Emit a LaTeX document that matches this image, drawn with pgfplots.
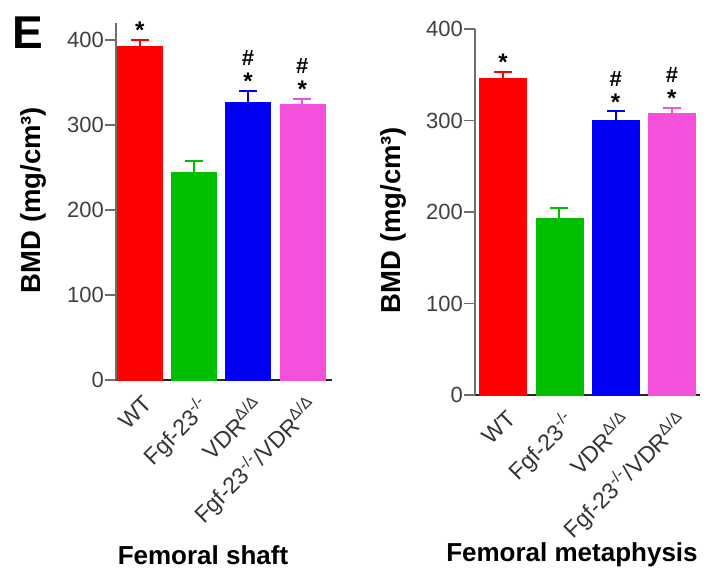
\documentclass[border=0pt]{standalone}
\usepackage{pgfplots}
\pgfplotsset{compat=1.18}
\usepackage{fontspec}
\setmainfont{Liberation Sans}
\definecolor{cred}{RGB}{255,0,0}
\definecolor{cgreen}{RGB}{0,190,0}
\definecolor{cblue}{RGB}{0,0,245}
\definecolor{cpink}{RGB}{245,80,220}
\definecolor{axgray}{RGB}{110,110,110}
\begin{document}
\begin{tikzpicture}
\path[use as bounding box] (0,0) rectangle (707pt,-575pt);
\pgfplotsset{
 bmd/.style={
  scale only axis,
  anchor=south west,
  axis x line*=bottom, axis y line*=left,
  x axis line style={black!85, line width=1.6pt, -},
  y axis line style={axgray, line width=2.5pt, -},
  ytick={0,100,200,300,400},
  xtick={0,1,2,3},
  xticklabels={WT, Fgf-23\textsuperscript{-/-}, VDR\textsuperscript{Δ/Δ}, Fgf-23\textsuperscript{-/-}/VDR\textsuperscript{Δ/Δ}},
  x tick label style={rotate=45, anchor=north east, font=\fontsize{23}{23}\selectfont, text=black!80, inner sep=1pt, yshift=-3pt, xshift=1pt},
  y tick label style={font=\fontsize{22}{22}\selectfont, text=black!75, inner sep=1pt},
  /pgf/number format/assume math mode=true,
  tick align=outside,
  major tick length=11pt,
  ytick style={axgray, line width=1.5pt},
  xtick style={draw=none},
  ymin=0,
  clip=false,
 },
 bbar/.style={ybar, bar shift=0pt, fill=#1, draw=#1,
   error bars/.cd, y dir=plus, y explicit,
   error bar style={#1, line width=2pt},
   error mark options={#1, rotate=90, mark size=9pt, line width=2pt}},
 star/.style={only marks, mark=none, nodes near coords={*},
   nodes near coords style={anchor=south, font=\fontsize{24}{24}\selectfont\bfseries, inner sep=1pt}},
 hash/.style={only marks, mark=none, nodes near coords={\#},
   nodes near coords style={anchor=south, font=\fontsize{22}{22}\selectfont\bfseries, inner sep=1pt, yshift=24pt}},
}
% Left panel: Femoral shaft
\begin{axis}[bmd, at={(116pt,-380pt)}, width=216pt, height=357pt,
  xmin=-0.44, xmax=3.55, ymax=420, bar width=45pt]
\addplot[bbar=cred] coordinates {(0,393) +- (0,7)};
\addplot[bbar=cgreen] coordinates {(1,245) +- (0,13)};
\addplot[bbar=cblue] coordinates {(2,327) +- (0,13)};
\addplot[bbar=cpink] coordinates {(3,325) +- (0,6)};
\addplot[star] coordinates {(0,400) (2,340) (3,331)};
\addplot[hash] coordinates {(2,340) (3,331)};
\end{axis}
% Right panel: Femoral metaphysis
\begin{axis}[bmd, at={(475pt,-395pt)}, width=225pt, height=366pt,
  xmin=-0.5, xmax=3.5, ymax=400, bar width=47pt]
\addplot[bbar=cred] coordinates {(0,346) +- (0,7)};
\addplot[bbar=cgreen] coordinates {(1,193.5) +- (0,10.5)};
\addplot[bbar=cblue] coordinates {(2,300) +- (0,10)};
\addplot[bbar=cpink] coordinates {(3,308) +- (0,5.5)};
\addplot[star] coordinates {(0,353) (2,310) (3,313.5)};
\addplot[hash] coordinates {(2,310) (3,313.5)};
\end{axis}
\node[font=\fontsize{46}{46}\selectfont\bfseries] at (28pt,-33pt) {E};
\node[rotate=90, font=\fontsize{27.5}{27.5}\selectfont\bfseries] at (33pt,-200pt) {BMD (mg/cm³)};
\node[rotate=90, font=\fontsize{27.5}{27.5}\selectfont\bfseries] at (393pt,-220pt) {BMD (mg/cm³)};
\node[font=\fontsize{26}{26}\selectfont\bfseries] at (203pt,-555pt) {Femoral shaft};
\node[font=\fontsize{26}{26}\selectfont\bfseries] at (572pt,-555pt) {Femoral metaphysis};
\end{tikzpicture}
\end{document}
